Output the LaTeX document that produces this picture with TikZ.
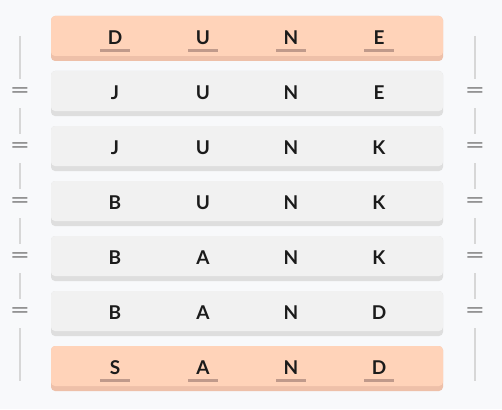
\documentclass[tikz,border=0pt]{standalone}
\usepackage{fontspec}
\usepackage{graphicx}
\setmainfont{Lato}
\usetikzlibrary{positioning, calc}
\definecolor{pagebg}{HTML}{F8F9FB}
\definecolor{keyfill}{HTML}{FFD3B9}
\definecolor{keyedge}{HTML}{EEC0A9}
\definecolor{wordfill}{HTML}{F1F1F1}
\definecolor{wordedge}{HTML}{DEDEDE}
\definecolor{ulcolor}{HTML}{C09A8B}
\definecolor{railgray}{HTML}{D7D7D7}
\definecolor{eqgray}{HTML}{888888}
\definecolor{ink}{HTML}{1B1B1B}

\begin{document}
\begin{tikzpicture}[x=1pt, y=-1pt,
        tile/.style 2 args={rectangle, rounded corners=4pt, minimum width=392pt, minimum height=45pt,
                      inner sep=0pt, fill=#2,
                      path picture={\fill[#1] (path picture bounding box.north west)
                          rectangle ([yshift=5pt]path picture bounding box.south east);}},
        word/.style={tile={wordfill}{wordedge}},
        key/.style={tile={keyfill}{keyedge}},
        letter/.style={inner sep=0pt, text=ink, font=\bfseries\fontsize{19}{19}\selectfont},
        uline/.style={ulcolor, line width=2.5pt},
        eq/.style={minimum height=29pt, inner sep=0pt, text=eqgray, font=\fontsize{24}{24}\selectfont},
        rail/.style={railgray, line width=2pt}
    ]
        \fill[pagebg] (0,0) rectangle (502,409);
        \useasboundingbox (0,0) rectangle (502,409);

        % rows
        \node[key]  (r1) at (247,38.5) {};
        \node[word] (r2) at (247,93.5) {};
        \node[word] (r3) at (247,148.5) {};
        \node[word] (r4) at (247,203.5) {};
        \node[word] (r5) at (247,258.5) {};
        \node[word] (r6) at (247,313.5) {};
        \node[key]  (r7) at (247,368.5) {};

        % letters
        \node[letter] (r1a) at (115,38) {D};
        \node[letter] (r1b) at (203,38) {U};
        \node[letter] (r1c) at (291,38) {N};
        \node[letter] (r1d) at (379,38) {E};

        \node[letter] (r2a) at (115,93) {J};
        \node[letter] (r2b) at (203,93) {U};
        \node[letter] (r2c) at (291,93) {N};
        \node[letter] (r2d) at (379,93) {E};

        \node[letter] (r3a) at (115,148) {J};
        \node[letter] (r3b) at (203,148) {U};
        \node[letter] (r3c) at (291,148) {N};
        \node[letter] (r3d) at (379,148) {K};

        \node[letter] (r4a) at (115,203) {B};
        \node[letter] (r4b) at (203,203) {U};
        \node[letter] (r4c) at (291,203) {N};
        \node[letter] (r4d) at (379,203) {K};

        \node[letter] (r5a) at (115,258) {B};
        \node[letter] (r5b) at (203,258) {A};
        \node[letter] (r5c) at (291,258) {N};
        \node[letter] (r5d) at (379,258) {K};

        \node[letter] (r6a) at (115,313) {B};
        \node[letter] (r6b) at (203,313) {A};
        \node[letter] (r6c) at (291,313) {N};
        \node[letter] (r6d) at (379,313) {D};

        \node[letter] (r7a) at (115,368) {S};
        \node[letter] (r7b) at (203,368) {A};
        \node[letter] (r7c) at (291,368) {N};
        \node[letter] (r7d) at (379,368) {D};

        % underlines on the two ends
        \foreach \n in {r1a,r1b,r1c,r1d,r7a,r7b,r7c,r7d}
            \draw[uline] ($(\n)+(-15,12.5)$) -- ++(30,0);

        % equal signs
        \node[eq] (eqL2) at (20,93.5) {\scalebox{1.45}[1]{=}};
        \node[eq] (eqL3) at (20,148.5) {\scalebox{1.45}[1]{=}};
        \node[eq] (eqL4) at (20,203.5) {\scalebox{1.45}[1]{=}};
        \node[eq] (eqL5) at (20,258.5) {\scalebox{1.45}[1]{=}};
        \node[eq] (eqL6) at (20,313.5) {\scalebox{1.45}[1]{=}};
        \node[eq] (eqR2) at (475,93.5) {\scalebox{1.45}[1]{=}};
        \node[eq] (eqR3) at (475,148.5) {\scalebox{1.45}[1]{=}};
        \node[eq] (eqR4) at (475,203.5) {\scalebox{1.45}[1]{=}};
        \node[eq] (eqR5) at (475,258.5) {\scalebox{1.45}[1]{=}};
        \node[eq] (eqR6) at (475,313.5) {\scalebox{1.45}[1]{=}};

        % rails
        \coordinate (lt) at (20,36);
        \coordinate (lb) at (20,381);
        \coordinate (rt) at (475,36);
        \coordinate (rb) at (475,381);
        \draw[rail] (lt) -- (eqL2.north);
        \draw[rail] (eqL2.south) -- (eqL3.north);
        \draw[rail] (eqL3.south) -- (eqL4.north);
        \draw[rail] (eqL4.south) -- (eqL5.north);
        \draw[rail] (eqL5.south) -- (eqL6.north);
        \draw[rail] (eqL6.south) -- (lb);
        \draw[rail] (rt) -- (eqR2.north);
        \draw[rail] (eqR2.south) -- (eqR3.north);
        \draw[rail] (eqR3.south) -- (eqR4.north);
        \draw[rail] (eqR4.south) -- (eqR5.north);
        \draw[rail] (eqR5.south) -- (eqR6.north);
        \draw[rail] (eqR6.south) -- (rb);
    \end{tikzpicture}
\end{document}
